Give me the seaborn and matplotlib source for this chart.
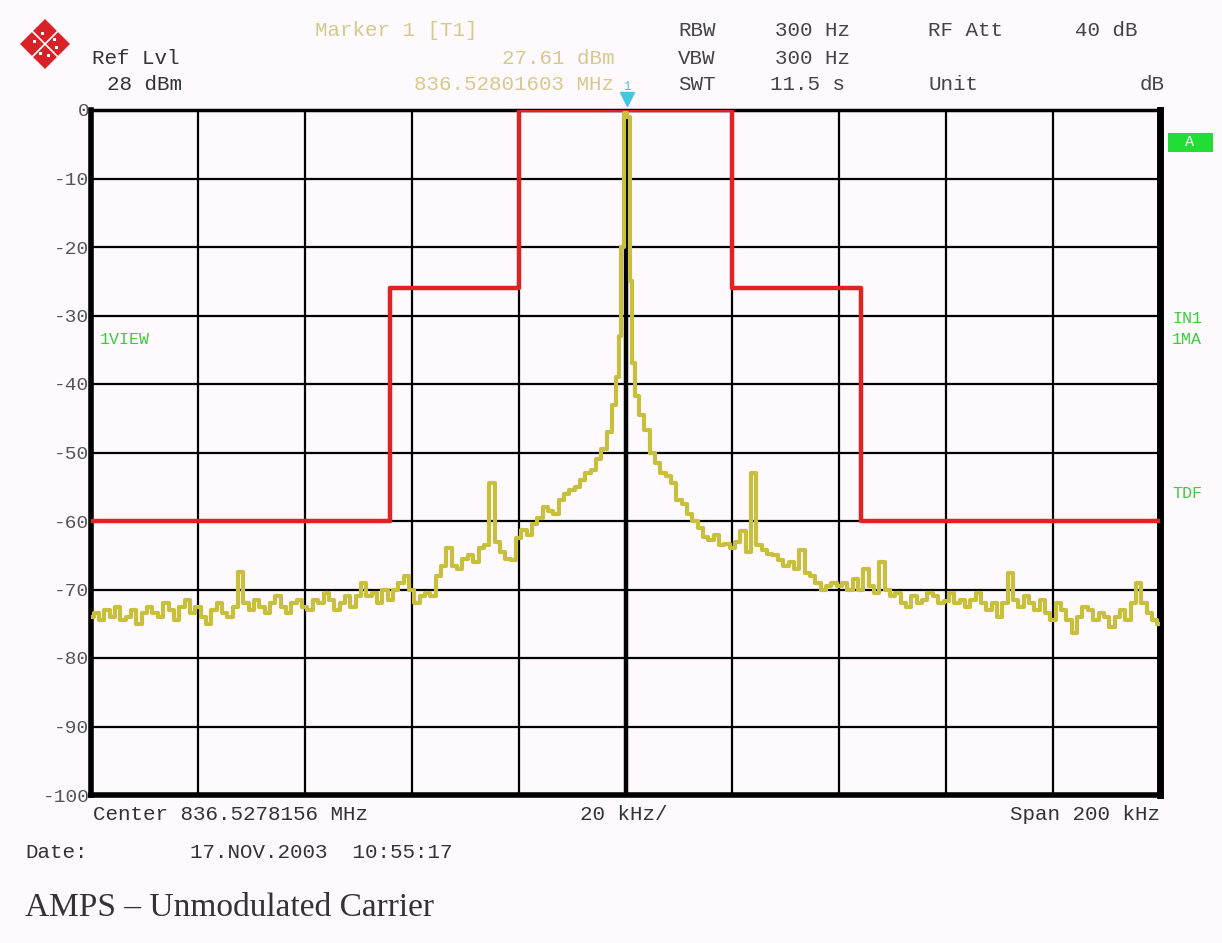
import numpy as np
import pandas as pd
import matplotlib
matplotlib.use("Agg")
import matplotlib.pyplot as plt
from matplotlib.patches import Polygon, Rectangle
from matplotlib.lines import Line2D
import seaborn as sns

# ---------------- data ----------------
freq_khz = [-100, -99, -98, -97, -96, -95, -94, -93, -92, -91, -90, -89, -88, -87, -86, -85,
            -84, -83, -82, -81, -80, -79, -78, -77, -76, -75, -74, -73, -72, -71, -70, -69,
            -68, -67, -66, -65, -64, -63, -62, -61, -60, -59, -58, -57, -56, -55, -54, -53,
            -52, -51, -50, -49, -48, -47, -46, -45, -44, -43, -42, -41, -40, -39, -38, -37,
            -36, -35, -34, -33, -32, -31, -30, -29, -28, -27, -26, -25, -24, -23, -22, -21,
            -20, -19, -18, -17, -16, -15, -14, -13, -12, -11, -10, -9, -8, -7, -6, -5, -4,
            -3, -2, -1.5, -1, -0.5, 0, 0.5, 1, 1.5, 2, 3, 4, 5, 6, 7, 8, 9, 10, 11, 12, 13,
            14, 15, 16, 17, 18, 19, 20, 21, 22, 23, 24, 25, 26, 27, 28, 29, 30, 31, 32, 33,
            34, 35, 36, 37, 38, 39, 40, 41, 42, 43, 44, 45, 46, 47, 48, 49, 50, 51, 52, 53,
            54, 55, 56, 57, 58, 59, 60, 61, 62, 63, 64, 65, 66, 67, 68, 69, 70, 71, 72, 73,
            74, 75, 76, 77, 78, 79, 80, 81, 82, 83, 84, 85, 86, 87, 88, 89, 90, 91, 92, 93,
            94, 95, 96, 97, 98, 99, 100]
level_db = [-74, -73.5, -74.5, -73, -74, -72.5, -74.5, -74, -73, -75, -73.5, -72.5, -73.5, -74, -72, -73,
            -74.5, -72.5, -71.5, -73.5, -72.5, -74, -75, -73, -72, -73.5, -74, -72.5, -67.5, -72, -73, -71.5,
            -72.5, -73.5, -72, -71, -72.5, -73.5, -72, -71.5, -72.5, -73, -71.5, -72, -70.5, -71.5, -73, -72,
            -71, -72.5, -71, -69, -71, -70.5, -72, -70, -71.5, -70, -69, -68, -70, -72, -71, -70.5,
            -71, -68, -66.5, -64, -66.5, -67, -65.5, -65, -66, -64, -63.5, -54.5, -63, -64.5, -65.5, -65.7,
            -62.5, -61.3, -62, -60.5, -59.5, -58, -58.5, -59, -57, -56, -55.5, -55, -54, -53, -52.5, -51, -49.5,
            -47, -43, -39, -33, -20, -0.4, -1, -25, -37, -41.8, -44.5, -46.7, -50, -51.5, -53, -53.5, -54.5, -57, -57.5, -59, -60,
            -61, -62.3, -62.8, -62, -63.5, -63.3, -64, -63, -61.5, -64.5, -53, -63.5, -64.3, -64.8, -65, -65.7, -66.5, -66, -67, -64.3,
            -67.6, -68, -69, -70, -69.5, -69, -69.5, -69, -70, -68.5, -70, -67, -69.5, -70.5, -66, -70, -71, -70.5, -72, -72.5,
            -71, -72, -71.5, -70.5, -71, -72, -71.7, -70.5, -72, -71.5, -72.5, -71.5, -70.5, -72, -73, -72, -74, -72, -67.6, -71.5,
            -72.5, -71, -72, -73, -71.5, -73.5, -74.5, -72, -73, -74.5, -76.4, -74, -72.5, -73, -74.5, -73.5, -74, -75.5, -74, -73,
            -74.5, -72, -69, -72, -73.5, -74.5, -75]

limit_khz = [-100, -44, -44, -20, -20, 20, 20, 44, 44, 100]
limit_db = [-60, -60, -26, -26, 0, 0, -26, -26, -60, -60]

y_ticks = [0, -10, -20, -30, -40, -50, -60, -70, -80, -90, -100]
x_grid = [-100, -80, -60, -40, -20, 0, 20, 40, 60, 80, 100]

marker_khz = 0.2

header_left = [("Ref Lvl", 92, 58), ("28 dBm", 107, 85)]
header_marker = [("Marker 1 [T1]", 315, 30, "left"), ("27.61 dBm", 614, 58, "right"),
                 ("836.52801603 MHz", 614, 85, "right")]
header_right = [("RBW", 678, 30), ("300 Hz", 775, 30), ("RF Att", 928, 30), ("40 dB", 1075, 30),
                ("VBW", 678, 58), ("300 Hz", 775, 58),
                ("SWT", 678, 85), ("11.5 s", 770, 85), ("Unit", 928, 85)]

# ---------------- figure ----------------
W, H = 1222, 943
sns.set_theme(style="white")
plt.rcParams["font.family"] = ["DejaVu Sans"]
BG = "#fdf9fd"
fig = plt.figure(figsize=(W / 100, H / 100), dpi=100, facecolor=BG)
ax = fig.add_axes([91 / W, 1 - 795 / H, (1160 - 91) / W, (795 - 110) / H])
ax.set_facecolor(BG)

MONO = "Liberation Mono"

def ftext(s, x, y, ha="left", color="#333333", size=15, family=MONO, **kw):
    fig.text(x / W, 1 - y / H, s, ha=ha, va="center", color=color, fontsize=size,
             family=family, **kw)

# grid
for xv in x_grid:
    ax.axvline(xv, color="black", lw=3.2 if xv == 0 else 1.6, zorder=1)
for yv in y_ticks:
    ax.axhline(yv, color="black", lw=1.6, zorder=1)

df_trace = pd.DataFrame({"freq": freq_khz, "level": level_db})
df_limit = pd.DataFrame({"freq": limit_khz, "level": limit_db})

sns.lineplot(data=df_limit, x="freq", y="level", color="#e02222", lw=3.2, ax=ax,
             estimator=None, sort=False, zorder=3)
sns.lineplot(data=df_trace, x="freq", y="level", color="#c8c03c", lw=3.0, ax=ax,
             estimator=None, sort=False, drawstyle="steps-mid", zorder=4)

ax.set_xlim(-100, 100)
ax.set_ylim(-100, 0)
ax.set_xticks([])
ax.set_yticks(y_ticks)
ax.set_yticklabels([str(v) for v in y_ticks], family=MONO, fontsize=14, color="#555555")
ax.tick_params(axis="y", length=0, pad=1)
ax.set_xlabel("")
ax.set_ylabel("")
for side, lw in [("left", 4), ("right", 5), ("bottom", 4), ("top", 2.5)]:
    ax.spines[side].set_visible(True)
    ax.spines[side].set_color("black")
    ax.spines[side].set_linewidth(lw)

# marker
ax.plot([marker_khz], [1.6], marker="v", color="#40c8e0", markersize=10, clip_on=False, zorder=6)
ax.text(marker_khz, 3.3, "1", color="#40c8e0", fontsize=9, family=MONO, ha="center",
        va="center", clip_on=False)

# logo (R&S-style diamond)
cx, cy, r = 45, 44, 25
pts = [(cx, cy - r), (cx + r, cy), (cx, cy + r), (cx - r, cy)]
fig.patches.append(Polygon([(px / W, 1 - py / H) for px, py in pts], closed=True,
                           transform=fig.transFigure, facecolor="#d92228", edgecolor="none"))
for (x0, y0, x1, y1) in [(cx - r / 2, cy - r / 2, cx + r / 2, cy + r / 2),
                         (cx + r / 2, cy - r / 2, cx - r / 2, cy + r / 2)]:
    fig.lines.append(Line2D([x0 / W, x1 / W], [1 - y0 / H, 1 - y1 / H], transform=fig.transFigure,
                            color="white", lw=1.2))
for (dx, dy) in [(-11, -3), (-3, -11), (3, 11), (11, 3), (-5, 9), (9, -5)]:
    fig.patches.append(Rectangle(((cx + dx - 1.5) / W, 1 - (cy + dy + 1.5) / H), 3 / W, 3 / H,
                                 transform=fig.transFigure, facecolor="white", edgecolor="none"))

# header texts
for s, x, y in header_left:
    ftext(s, x, y, color="#333333")
for s, x, y, ha in header_marker:
    ftext(s, x, y, ha=ha, color="#d6c98e")
for s, x, y in header_right:
    ftext(s, x, y, color="#444444")
ftext("dB", 1165, 85, ha="right", color="#444444")

# side labels
GREEN = "#3ccc3c"
ftext("1VIEW", 100, 340, color=GREEN, size=12)
ftext("IN1", 1172, 318, color=GREEN, size=12)
ftext("1MA", 1172, 340, color=GREEN, size=12)
ftext("TDF", 1172, 493, color=GREEN, size=12)
fig.patches.append(Rectangle((1168 / W, 1 - 152 / H), 45 / W, 19 / H, transform=fig.transFigure,
                             facecolor="#22dd33", edgecolor="none"))
ftext("A", 1190, 142, ha="center", color="white", size=11)

# bottom texts
ftext("Center 836.5278156 MHz", 93, 815, color="#333333")
ftext("20 kHz/", 580, 815, color="#333333")
ftext("Span 200 kHz", 1160, 815, ha="right", color="#333333")
ftext("Date:", 25, 853, color="#333333")
ftext("17.NOV.2003  10:55:17", 190, 853, color="#333333")
ftext("AMPS \u2013 Unmodulated Carrier", 25, 908, color="#333333", size=24,
      family="Liberation Serif")

fig.savefig("out.png", dpi=100, facecolor=BG)
